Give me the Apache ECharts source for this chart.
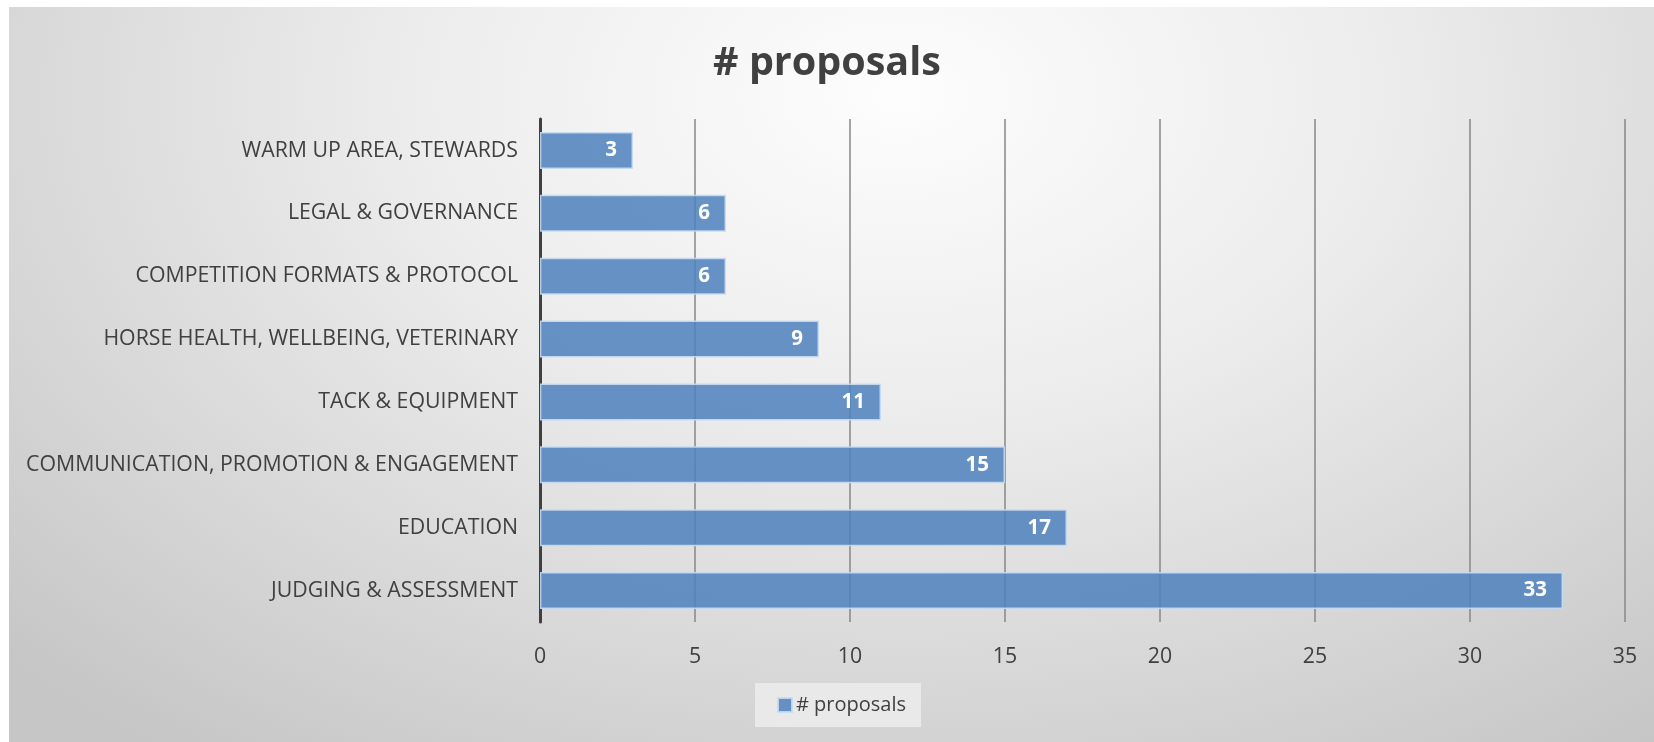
<!DOCTYPE html>
<html>
<head>
<meta charset="utf-8">
<script src="https://cdn.jsdelivr.net/npm/echarts@6/dist/echarts.min.js"></script>
<style>
  html, body { margin: 0; padding: 0; background: #ffffff; }
  #wrap { position: absolute; left: 0; top: 0; width: 1654px; height: 742px; background: #ffffff; }
  #bg { position: absolute; left: 9px; top: 7px; width: 1645px; height: 735px;
        background: radial-gradient(ellipse 75% 110% at 54% 12%, #fdfdfd 0%, #ececec 40%, #d6d6d6 75%, #c6c6c6 100%); }
  #chart { position: absolute; left: 0; top: 0; width: 1654px; height: 742px; }
</style>
</head>
<body>
<div id="wrap"><div id="bg"></div><div id="chart"></div></div>
<script>
const titleText = "# proposals";
const seriesName = "# proposals";
const categories = [
  "WARM UP AREA, STEWARDS",
  "LEGAL & GOVERNANCE",
  "COMPETITION FORMATS & PROTOCOL",
  "HORSE HEALTH, WELLBEING, VETERINARY",
  "TACK & EQUIPMENT",
  "COMMUNICATION, PROMOTION & ENGAGEMENT",
  "EDUCATION",
  "JUDGING & ASSESSMENT"
];
const values = [3, 6, 6, 9, 11, 15, 17, 33];
const xMin = 0, xMax = 35, xStep = 5;

const chart = echarts.init(document.getElementById('chart'), null, { renderer: 'canvas' });
const font = "'Open Sans', 'Liberation Sans', sans-serif";
chart.setOption({
  backgroundColor: 'transparent',
  animation: false,
  title: {
    text: titleText,
    left: 'center',
    top: 39,
    textStyle: { fontFamily: font, fontSize: 39.5, fontWeight: 'bold', color: '#404040' }
  },
  legend: {
    data: [seriesName],
    left: 755,
    top: 683,
    backgroundColor: '#e9e9e9',
    padding: [12, 15, 12, 22],
    itemWidth: 14,
    itemHeight: 14,
    itemGap: 6,
    icon: 'rect',
    textStyle: { fontFamily: font, fontSize: 20, color: '#404040', padding: [0, 0, 0, -1] }
  },
  grid: { left: 540, right: 29, top: 119, bottom: 120, containLabel: false },
  xAxis: {
    type: 'value',
    min: xMin, max: xMax, interval: xStep,
    axisLine: { show: false },
    axisTick: { show: false },
    axisLabel: { margin: 24, fontFamily: font, fontSize: 21.3, color: '#404040' },
    splitLine: { show: true, lineStyle: { color: '#878787', width: 1.5 } }
  },
  yAxis: {
    type: 'category',
    data: categories,
    inverse: true,
    axisLine: { show: true, lineStyle: { color: '#404040', width: 3 } },
    axisTick: { show: false },
    axisLabel: { margin: 22, fontFamily: font, fontSize: 21.3, color: '#404040' },
    splitLine: { show: false }
  },
  series: [{
    name: seriesName,
    type: 'bar',
    data: values,
    barCategoryGap: '41%',
    itemStyle: {
      color: 'rgba(79,129,189,0.86)',
      borderColor: 'rgba(200,218,240,0.9)',
      borderWidth: 1.5
    },
    label: {
      show: true,
      position: 'insideRight',
      distance: 16,
      fontFamily: font,
      fontSize: 20.5,
      fontWeight: 'bold',
      color: '#ffffff'
    }
  }]
});
</script>
</body>
</html>
